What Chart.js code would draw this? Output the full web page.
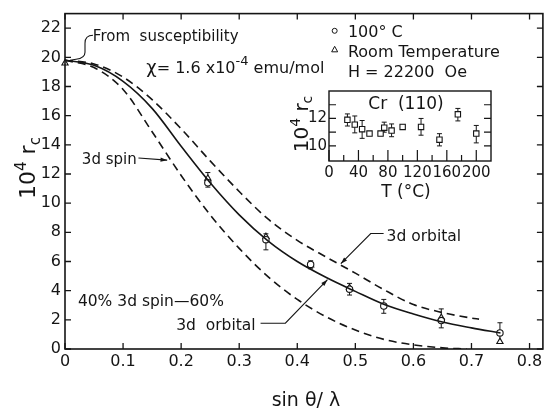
<!DOCTYPE html>
<html>
<head>
<meta charset="utf-8">
<title>Cr form factor</title>
<script src="https://cdn.jsdelivr.net/npm/chart.js@4.4.1/dist/chart.umd.min.js"></script>
<style>
  html, body { margin: 0; padding: 0; background: #fff; }
  #wrap { position: relative; width: 548px; height: 408px; }
  #main { position: absolute; left: 0; top: 0; }
  #inset { position: absolute; left: 290px; top: 80px; }
</style>
</head>
<body>
<div id="wrap">
  <canvas id="main" width="548" height="408"></canvas>
  <canvas id="inset" width="210" height="125"></canvas>
</div>
<script>
// ---- main plot: 10^4 r_c against sin(theta)/lambda ----
const mixX = [0, 0.05, 0.1, 0.15, 0.2, 0.25, 0.3, 0.35, 0.4, 0.45, 0.5, 0.55, 0.6, 0.65, 0.7, 0.75];
const mixCurve = [19.8, 19.45, 18.35, 16.5, 13.9, 11.4, 9.2, 7.4, 6.0, 4.9, 3.95, 3.05, 2.4, 1.85, 1.45, 1.1];
const orbitalX = [0, 0.05, 0.1, 0.15, 0.2, 0.25, 0.3, 0.35, 0.4, 0.45, 0.5, 0.55, 0.6, 0.65, 0.7, 0.713];
const orbitalCurve = [19.8, 19.55, 18.65, 17.1, 15.1, 12.9, 10.8, 8.9, 7.45, 6.3, 5.2, 4.05, 3.05, 2.5, 2.12, 2.05];
const spinX = [0, 0.05, 0.1, 0.15, 0.2, 0.25, 0.3, 0.35, 0.4, 0.45, 0.5, 0.55, 0.6, 0.65, 0.692];
const spinCurve = [19.8, 19.3, 17.8, 14.9, 11.9, 9.2, 6.9, 4.95, 3.4, 2.2, 1.3, 0.65, 0.28, 0.08, 0];

// measured points, 100 C (circles) and room temperature (triangles)
const hotX = [0.246, 0.346, 0.423, 0.49, 0.549, 0.648, 0.749];
const hotY = [11.4, 7.5, 5.8, 4.1, 2.95, 1.95, 1.1];
const hotLow = [11.1, 6.8, 5.5, 3.7, 2.45, 1.45, 0.4];
const hotHigh = [12.1, 7.9, 6.05, 4.5, 3.4, 2.75, 1.8];
const roomX = [0, 0.246, 0.346, 0.423, 0.49, 0.648, 0.749];
const roomY = [19.6, 11.7, 7.7, 5.75, 4.2, 2.15, 0.5];

const xTicks = [0, 0.1, 0.2, 0.3, 0.4, 0.5, 0.6, 0.7, 0.8];
const yTicks = [0, 2, 4, 6, 8, 10, 12, 14, 16, 18, 20, 22];

// ---- inset: Cr (110) against temperature ----
const tempC = [25, 35, 45, 55, 70, 75, 85, 100, 125, 150, 175, 200];
const crY = [11.9, 11.55, 11.22, 10.9, 10.9, 11.33, 11.12, 11.38, 11.38, 10.45, 12.3, 10.9];
const crLow = [11.45, 10.95, 10.55, 10.75, 10.75, 11.0, 10.67, 11.23, 10.78, 10.0, 11.82, 10.22];
const crHigh = [12.33, 12.18, 11.85, 11.05, 11.05, 11.73, 11.6, 11.53, 12.0, 10.89, 12.73, 11.49];
const insetXTicks = [0, 20, 40, 60, 80, 100, 120, 140, 160, 180, 200];
const insetYTicks = [10, 11, 12, 13];

const FONT = '"DejaVu Sans", sans-serif';
const INK = '#151515';

function pts(xs, ys) {
  return xs.map((x, i) => ({ x: x, y: ys[i] }));
}

// draw text made of pieces: [text, fontSize, baselineShift]
function drawRich(ctx, parts, x, y, align) {
  let w = 0;
  parts.forEach(p => { ctx.font = p[1] + 'px ' + FONT; w += ctx.measureText(p[0]).width; });
  let cx = align === 'center' ? x - w / 2 : x;
  ctx.textAlign = 'left';
  ctx.textBaseline = 'alphabetic';
  parts.forEach(p => {
    ctx.font = p[1] + 'px ' + FONT;
    ctx.fillText(p[0], cx, y + p[2]);
    cx += ctx.measureText(p[0]).width;
  });
}

function arrowHead(ctx, x0, y0, x1, y1) {
  const a = Math.atan2(y1 - y0, x1 - x0);
  ctx.beginPath();
  ctx.moveTo(x1, y1);
  ctx.lineTo(x1 - 7 * Math.cos(a - 0.3), y1 - 7 * Math.sin(a - 0.3));
  ctx.lineTo(x1 - 7 * Math.cos(a + 0.3), y1 - 7 * Math.sin(a + 0.3));
  ctx.closePath();
  ctx.fill();
}

function errorBars(ctx, xs, s, xv, lo, hi) {
  ctx.save();
  ctx.strokeStyle = INK;
  ctx.lineWidth = 1;
  xv.forEach((v, i) => {
    const px = xs.getPixelForValue(v);
    const a = s.getPixelForValue(lo[i]);
    const b = s.getPixelForValue(hi[i]);
    ctx.beginPath();
    ctx.moveTo(px, a); ctx.lineTo(px, b);
    ctx.moveTo(px - 2.5, a); ctx.lineTo(px + 2.5, a);
    ctx.moveTo(px - 2.5, b); ctx.lineTo(px + 2.5, b);
    ctx.stroke();
  });
  ctx.restore();
}

const mainDecor = {
  id: 'mainDecor',
  beforeDraw(chart) {
    const ctx = chart.ctx;
    ctx.save();
    ctx.fillStyle = '#fff';
    ctx.fillRect(0, 0, chart.width, chart.height);
    ctx.restore();
  },
  beforeDatasetsDraw(chart) {
    errorBars(chart.ctx, chart.scales.x, chart.scales.y, hotX, hotLow, hotHigh);
  },
  afterDatasetsDraw(chart) {
    const ctx = chart.ctx;
    const a = chart.chartArea;
    const xs = chart.scales.x, ys = chart.scales.y;
    const P = (x, y) => [xs.getPixelForValue(x), ys.getPixelForValue(y)];
    ctx.save();
    ctx.strokeStyle = INK;
    ctx.fillStyle = INK;
    ctx.lineWidth = 1.6;
    ctx.strokeRect(a.left, a.top, a.right - a.left, a.bottom - a.top);

    // inward ticks on all four sides
    ctx.lineWidth = 1.3;
    ctx.beginPath();
    xTicks.forEach(v => {
      const px = xs.getPixelForValue(v);
      ctx.moveTo(px, a.bottom); ctx.lineTo(px, a.bottom - 6);
      ctx.moveTo(px, a.top); ctx.lineTo(px, a.top + 6);
    });
    yTicks.forEach(v => {
      const py = ys.getPixelForValue(v);
      ctx.moveTo(a.left, py); ctx.lineTo(a.left + 6, py);
      ctx.moveTo(a.right, py); ctx.lineTo(a.right - 6, py);
    });
    ctx.stroke();

    // axis titles
    ctx.save();
    ctx.translate(27, 168);
    ctx.rotate(-Math.PI / 2);
    drawRich(ctx, [['10', 22, 0], ['4', 15, -9], [' r', 22, 0], ['c', 15, 5]], 0, 8, 'center');
    ctx.restore();
    drawRich(ctx, [['sin ', 19, 0], ['\u03b8', 19, 0], ['/ \u03bb', 19, 0]], (a.left + a.right) / 2 + 2, 406, 'center');

    // "From susceptibility" bracket pointing at sin=0
    const [ax, ay] = P(0, 19.8);
    ctx.lineWidth = 1.1;
    ctx.beginPath();
    ctx.moveTo(ax + 28, ay - 25);
    ctx.quadraticCurveTo(ax + 20, ay - 25, ax + 20, ay - 17);
    ctx.lineTo(ax + 20, ay - 8);
    ctx.quadraticCurveTo(ax + 20, ay - 2, ax + 11, ay - 1);
    ctx.lineTo(ax + 5, ay);
    ctx.stroke();
    let p = P(0.048, 21.45);
    drawRich(ctx, [['From  susceptibility', 15, 0]], p[0], p[1] + 5, 'left');
    p = P(0.140, 19.35);
    drawRich(ctx, [['\u03c7', 18, 0], ['= 1.6 x10', 16, 0], ['-4', 13, -8], [' emu/mol', 16, 0]], p[0], p[1] + 6, 'left');

    // legend
    p = P(0.4644, 21.82);
    ctx.lineWidth = 1;
    ctx.beginPath(); ctx.arc(p[0], p[1], 2.5, 0, Math.PI * 2); ctx.stroke();
    p = P(0.4644, 20.55);
    ctx.beginPath();
    ctx.moveTo(p[0], p[1] - 3); ctx.lineTo(p[0] + 3, p[1] + 2.5); ctx.lineTo(p[0] - 3, p[1] + 2.5); ctx.closePath();
    ctx.stroke();
    p = P(0.4872, 21.82);
    drawRich(ctx, [['100\u00b0 C', 16, 0]], p[0], p[1] + 6, 'left');
    p = P(0.4872, 20.45);
    drawRich(ctx, [['Room Temperature', 16, 0]], p[0], p[1] + 6, 'left');
    p = P(0.4872, 19.05);
    drawRich(ctx, [['H = 22200  Oe', 16, 0]], p[0], p[1] + 6, 'left');

    // curve labels and arrows
    ctx.lineWidth = 1.1;
    p = P(0.029, 13.1);
    drawRich(ctx, [['3d spin', 15, 0]], p[0], p[1] + 6, 'left');
    let s = P(0.1265, 13.1), t = P(0.176, 12.95);
    ctx.beginPath(); ctx.moveTo(s[0], s[1]); ctx.lineTo(t[0], t[1]); ctx.stroke();
    arrowHead(ctx, s[0], s[1], t[0], t[1]);

    p = P(0.0222, 3.34);
    drawRich(ctx, [['40% 3d spin\u201460%', 15.5, 0]], p[0], p[1] + 6, 'left');
    p = P(0.1915, 1.71);
    drawRich(ctx, [['3d  orbital', 15.5, 0]], p[0], p[1] + 6, 'left');
    s = P(0.3368, 1.77); let m = P(0.3795, 1.77); t = P(0.452, 4.75);
    ctx.beginPath(); ctx.moveTo(s[0], s[1]); ctx.lineTo(m[0], m[1]); ctx.lineTo(t[0], t[1]); ctx.stroke();
    arrowHead(ctx, m[0], m[1], t[0], t[1]);

    p = P(0.5538, 7.85);
    drawRich(ctx, [['3d orbital', 15.5, 0]], p[0], p[1] + 6, 'left');
    s = P(0.5487, 7.92); m = P(0.5265, 7.92); t = P(0.475, 5.85);
    ctx.beginPath(); ctx.moveTo(s[0], s[1]); ctx.lineTo(m[0], m[1]); ctx.lineTo(t[0], t[1]); ctx.stroke();
    arrowHead(ctx, m[0], m[1], t[0], t[1]);
    ctx.restore();
  }
};

const tickFont = { family: FONT, size: 16 };

new Chart(document.getElementById('main'), {
  type: 'line',
  data: {
    datasets: [
      { data: pts(mixX, mixCurve), borderColor: INK, borderWidth: 1.6, pointRadius: 0, cubicInterpolationMode: 'monotone' },
      { data: pts(orbitalX, orbitalCurve), borderColor: INK, borderWidth: 1.6, borderDash: [8, 5], pointRadius: 0, cubicInterpolationMode: 'monotone' },
      { data: pts(spinX, spinCurve), borderColor: INK, borderWidth: 1.6, borderDash: [8, 5], pointRadius: 0, cubicInterpolationMode: 'monotone' },
      { type: 'scatter', data: pts(hotX, hotY), pointStyle: 'circle', pointRadius: 3.2, borderColor: INK, backgroundColor: '#fff', borderWidth: 1.1, clip: 8 },
      { type: 'scatter', data: pts(roomX, roomY), pointStyle: 'triangle', pointRadius: 3.6, borderColor: INK, backgroundColor: '#fff', borderWidth: 1.1, clip: 8 }
    ]
  },
  options: {
    responsive: false,
    animation: false,
    events: [],
    layout: { padding: { top: 12, right: 1, left: 0, bottom: 0 } },
    plugins: { legend: { display: false }, tooltip: { enabled: false } },
    scales: {
      x: {
        type: 'linear', min: 0, max: 0.823,
        grid: { display: false, drawTicks: false }, border: { display: false },
        afterBuildTicks: s => { s.ticks = xTicks.map(v => ({ value: v })); },
        afterFit: s => { s.height = 59; },
        ticks: { color: INK, font: tickFont, padding: 3, maxRotation: 0, autoSkip: false,
          callback: v => (v === 0 ? '0' : v.toFixed(1)) }
      },
      y: {
        type: 'linear', min: 0, max: 23,
        grid: { display: false, drawTicks: false }, border: { display: false },
        afterBuildTicks: s => { s.ticks = yTicks.map(v => ({ value: v })); },
        afterFit: s => { s.width = 65; },
        ticks: { color: INK, font: tickFont, padding: 4, autoSkip: false }
      }
    }
  },
  plugins: [mainDecor]
});

// ---- inset chart ----
const insetDecor = {
  id: 'insetDecor',
  beforeDatasetsDraw(chart) {
    errorBars(chart.ctx, chart.scales.x, chart.scales.y, tempC, crLow, crHigh);
  },
  afterDatasetsDraw(chart) {
    const ctx = chart.ctx;
    const a = chart.chartArea;
    const xs = chart.scales.x, ys = chart.scales.y;
    ctx.save();
    ctx.strokeStyle = INK;
    ctx.fillStyle = INK;
    ctx.lineWidth = 1.4;
    ctx.strokeRect(a.left, a.top, a.right - a.left, a.bottom - a.top);
    ctx.lineWidth = 1.2;
    ctx.beginPath();
    insetXTicks.forEach(v => {
      const px = xs.getPixelForValue(v);
      const len = v % 40 === 0 ? 11 : 6;
      ctx.moveTo(px, a.bottom); ctx.lineTo(px, a.bottom - len);
    });
    insetYTicks.forEach(v => {
      const py = ys.getPixelForValue(v);
      ctx.moveTo(a.left, py); ctx.lineTo(a.left + 7, py);
      ctx.moveTo(a.right, py); ctx.lineTo(a.right - 7, py);
    });
    ctx.stroke();
    drawRich(ctx, [['Cr  (110)', 17, 0]], (a.left + a.right) / 2 - 4, a.top + 18, 'center');
    drawRich(ctx, [['T (\u00b0C)', 17, 0]], 116, 117, 'center');
    ctx.save();
    ctx.translate(11, 44);
    ctx.rotate(-Math.PI / 2);
    drawRich(ctx, [['10', 20, 0], ['4', 14, -8], [' r', 20, 0], ['c', 14, 4]], 0, 7, 'center');
    ctx.restore();
    ctx.restore();
  }
};

new Chart(document.getElementById('inset'), {
  type: 'scatter',
  data: {
    datasets: [
      { data: pts(tempC, crY), pointStyle: 'rect', pointRadius: 3.8, borderColor: INK, backgroundColor: '#fff', borderWidth: 1.1 }
    ]
  },
  options: {
    responsive: false,
    animation: false,
    events: [],
    layout: { padding: { top: 6, right: 9, left: 0, bottom: 0 } },
    plugins: { legend: { display: false }, tooltip: { enabled: false } },
    scales: {
      x: {
        type: 'linear', min: 0, max: 220,
        grid: { display: false, drawTicks: false }, border: { display: false },
        afterBuildTicks: s => { s.ticks = insetXTicks.map(v => ({ value: v })); },
        afterFit: s => { s.height = 44; },
        ticks: { color: INK, font: { family: FONT, size: 15 }, padding: 3, maxRotation: 0, autoSkip: false,
          callback: v => (v % 40 === 0 ? String(v) : '') }
      },
      y: {
        type: 'linear', min: 8.9, max: 14,
        grid: { display: false, drawTicks: false }, border: { display: false },
        afterBuildTicks: s => { s.ticks = insetYTicks.map(v => ({ value: v })); },
        afterFit: s => { s.width = 39; },
        ticks: { color: INK, font: { family: FONT, size: 15 }, padding: 2, autoSkip: false,
          callback: v => (v % 2 === 0 ? String(v) : '') }
      }
    }
  },
  plugins: [insetDecor]
});
</script>
</body>
</html>
